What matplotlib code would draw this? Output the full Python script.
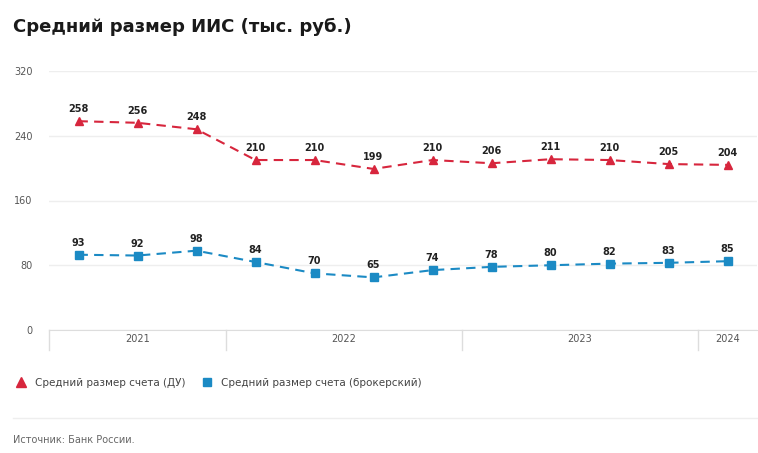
import matplotlib.pyplot as plt
from matplotlib.lines import Line2D
from matplotlib.transforms import blended_transform_factory

# data
du_values = [258, 256, 248, 210, 210, 199, 210, 206, 211, 210, 205, 204]
broker_values = [93, 92, 98, 84, 70, 65, 74, 78, 80, 82, 83, 85]
years = ["2021", "2022", "2023", "2024"]
year_counts = [3, 4, 4, 1]
y_ticks = [0, 80, 160, 240, 320]

red = "#d7263d"
blue = "#1b8ac4"

fig = plt.figure(figsize=(7.58, 4.53), dpi=100)
ax = fig.add_axes([49 / 758, 1 - 330 / 453, 708 / 758, 259 / 453])

x = list(range(len(du_values)))
ax.plot(x, du_values, color=red, ls=(0, (4.5, 3)), lw=1.5, marker="^", ms=5.5, zorder=3)
ax.plot(x, broker_values, color=blue, ls=(0, (4.5, 3)), lw=1.5, marker="s", ms=5.5, zorder=3)

for xi, v in zip(x, du_values):
    ax.annotate(str(v), (xi, v), xytext=(0, 5), textcoords="offset points",
                ha="center", va="bottom", fontsize=7, fontweight="bold", color="#222222")
for xi, v in zip(x, broker_values):
    ax.annotate(str(v), (xi, v), xytext=(0, 5), textcoords="offset points",
                ha="center", va="bottom", fontsize=7, fontweight="bold", color="#222222")

ax.set_xlim(-0.5, len(du_values) - 0.5)
ax.set_ylim(0, 320)
ax.set_yticks(y_ticks)
ax.set_yticklabels([str(t) for t in y_ticks])
ax.tick_params(axis="y", length=0, pad=12, labelsize=7, labelcolor="#555555")
ax.set_xticks([])
ax.grid(axis="y", color="#eeeeee", lw=1)
ax.set_axisbelow(True)
for s in ["top", "right", "left"]:
    ax.spines[s].set_visible(False)
ax.spines["bottom"].set_color("#dddddd")

# year groups under the axis
trans = blended_transform_factory(ax.transData, ax.transAxes)
start = -0.5
ax.plot([start, start], [0, -20 / 259], transform=trans, color="#dddddd", lw=1, clip_on=False)
for year, n in zip(years, year_counts):
    end = start + n
    ax.text((start + end) / 2, -9 / 259, year, transform=trans, ha="center", va="center",
            fontsize=7, color="#555555")
    if end < len(du_values) - 0.5:
        ax.plot([end, end], [0, -20 / 259], transform=trans, color="#dddddd", lw=1, clip_on=False)
    start = end

fig.text(13 / 758, 1 - 27 / 453, "Средний размер ИИС (тыс. руб.)", fontsize=13,
         fontweight="bold", color="#1a1a1a", va="center")

handles = [
    Line2D([], [], ls="none", marker="^", color=red, ms=6.5),
    Line2D([], [], ls="none", marker="s", color=blue, ms=6),
]
fig.legend(handles, ["Средний размер счета (ДУ)", "Средний размер счета (брокерский)"],
           loc="center left", bbox_to_anchor=(5 / 758, 1 - 383 / 453), ncol=2, frameon=False,
           fontsize=7.5, handletextpad=0.8, columnspacing=1.4, handlelength=1.2,
           labelcolor="#444444")

fig.add_artist(Line2D([13 / 758, 757 / 758], [1 - 418 / 453] * 2, color="#eeeeee", lw=1))
fig.text(13 / 758, 1 - 440 / 453, "Источник: Банк России.", fontsize=7, color="#666666", va="center")

fig.savefig("out.png", dpi=100, facecolor="white")
